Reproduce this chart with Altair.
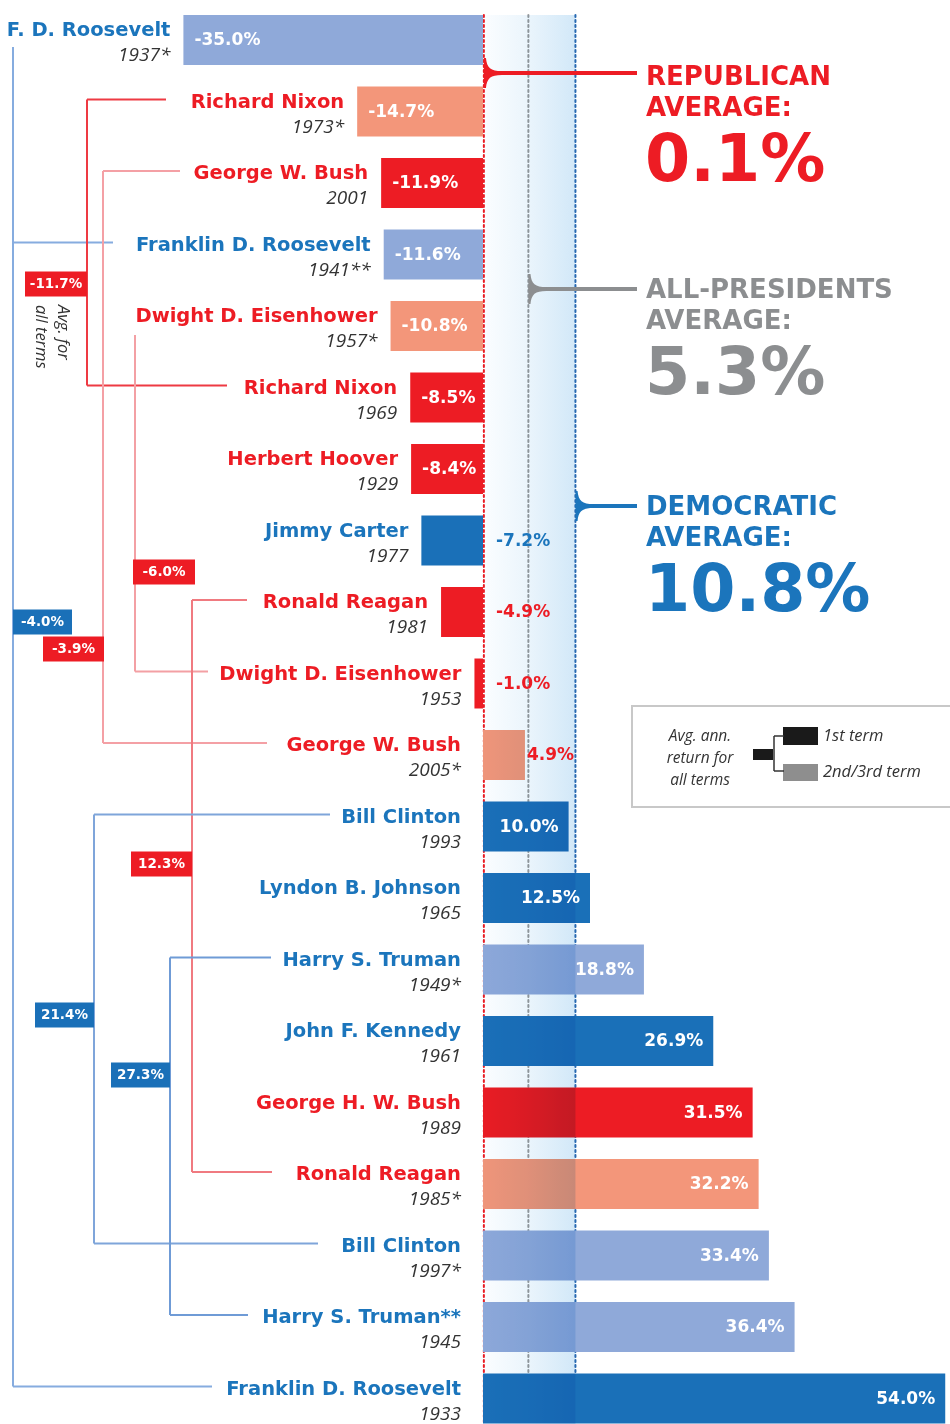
import altair as alt
import pandas as pd

W, H = 950, 1424

# ---------------- data ----------------
names = ["F. D. Roosevelt", "Richard Nixon", "George W. Bush", "Franklin D. Roosevelt",
         "Dwight D. Eisenhower", "Richard Nixon", "Herbert Hoover", "Jimmy Carter",
         "Ronald Reagan", "Dwight D. Eisenhower", "George W. Bush", "Bill Clinton",
         "Lyndon B. Johnson", "Harry S. Truman", "John F. Kennedy", "George H. W. Bush",
         "Ronald Reagan", "Bill Clinton", "Harry S. Truman**", "Franklin D. Roosevelt"]
years = ["1937*", "1973*", "2001", "1941**", "1957*", "1969", "1929", "1977", "1981", "1953",
         "2005*", "1993", "1965", "1949*", "1961", "1989", "1985*", "1997*", "1945", "1933"]
returns = [-35.0, -14.7, -11.9, -11.6, -10.8, -8.5, -8.4, -7.2, -4.9, -1.0,
           4.9, 10.0, 12.5, 18.8, 26.9, 31.5, 32.2, 33.4, 36.4, 54.0]
parties = ["D", "R", "R", "D", "R", "R", "R", "D", "R", "R",
           "R", "D", "D", "D", "D", "R", "R", "D", "D", "D"]
terms = ["2", "2", "1", "2", "2", "1", "1", "1", "1", "1",
         "2", "1", "1", "2", "1", "1", "2", "2", "2", "1"]

avg_names = ["REPUBLICAN", "ALL-PRESIDENTS", "DEMOCRATIC"]
avg_values = [0.1, 5.3, 10.8]

# president groups (rows of the same president) and their average for all terms
group_keys = ["FDR", "Nixon", "Bush", "Eisenhower", "Reagan", "Clinton", "Truman"]
group_rows = {"FDR": [0, 3, 19], "Nixon": [1, 5], "Bush": [2, 10], "Eisenhower": [4, 9],
              "Reagan": [8, 16], "Clinton": [11, 17], "Truman": [13, 18]}
group_avg = {"FDR": "-4.0%", "Nixon": "-11.7%", "Bush": "-3.9%", "Eisenhower": "-6.0%",
             "Reagan": "12.3%", "Clinton": "21.4%", "Truman": "27.3%"}

# ---------------- layout / style ----------------
ZERO_PX, PPX = 483.0, 8.56          # pixel of 0% and pixels per percent
ROW0_PX, ROW_PX = 40.0, 71.5        # centre of first row, row pitch
FONT = "Open Sans"
BOLD_FONT = "DejaVu Sans"
BLUE, RED = "#1B75BC", "#ED1C24"
GRAY = "#8C8E90"
BAR_COLORS = {"D1": "#1A70B8", "D2": "#8FA9D9", "R1": "#ED1C24", "R2": "#F3967A"}


def px2x(px):
    return (px - ZERO_PX) / PPX


def px2y(py):
    return (py - ROW0_PX) / ROW_PX


xs = alt.Scale(domain=[px2x(0), px2x(W)], nice=False, zero=False)
ys = alt.Scale(domain=[px2y(0), px2y(H)], nice=False, zero=False, reverse=True)


def X(f):
    return alt.X(f, type="quantitative", scale=xs, axis=None)


def Y(f):
    return alt.Y(f, type="quantitative", scale=ys, axis=None)


# bracket layout (pixels): vertical x, start of vertical (if under a name), branch ends, box
bracket_layout = {
    "FDR": dict(x=13, top=47, ends={3: 113, 19: 212}, box=(13, 72, 622), line="#86ACDF", fill="#1A70B8"),
    "Nixon": dict(x=87, top=None, ends={1: 166, 5: 227}, box=(25, 87, 284), line="#EE3A43", fill=RED),
    "Bush": dict(x=103, top=None, ends={2: 180, 10: 267}, box=(43, 104, 649), line="#F4A0A5", fill=RED),
    "Eisenhower": dict(x=135, top=335, ends={9: 208}, box=(133, 195, 572), line="#F3A0A4", fill=RED),
    "Reagan": dict(x=192, top=None, ends={8: 247, 16: 272}, box=(131, 192, 864), line="#F07A80", fill=RED),
    "Clinton": dict(x=94, top=None, ends={11: 330, 17: 318}, box=(35, 94, 1015), line="#7FA5DA", fill="#1A70B8"),
    "Truman": dict(x=170, top=None, ends={13: 271, 18: 248}, box=(111, 170, 1075), line="#6F9BD6", fill="#1A70B8"),
}

# ---------------- tables ----------------
rows = []
for i, (n, yr, v, p, t) in enumerate(zip(names, years, returns, parties, terms)):
    gap = 13 if v < 0 else 22
    rows.append(dict(row=i, name=n, year=yr, v=v, party=p, kind=p + t,
                     y0=i - 25 / ROW_PX, y1=i + 25 / ROW_PX,
                     ny=i - 10 / ROW_PX, yy=i + 15 / ROW_PX,
                     nx=min(v, 0) - gap / PPX,
                     ncolor=BLUE if p == "D" else RED,
                     label=f"{v:.1f}%"))
df = pd.DataFrame(rows)

lab_left, lab_right = [], []
for r in rows:
    v = r["v"]
    if v <= -8:
        lab_left.append(dict(x=v + 11 / PPX, y=r["row"], t=r["label"], c="white"))
    elif v < 0:
        lab_left.append(dict(x=13 / PPX, y=r["row"], t=r["label"], c=r["ncolor"]))
    elif v < 8:
        lab_left.append(dict(x=v + 2 / PPX, y=r["row"], t=r["label"], c=r["ncolor"]))
    else:
        lab_right.append(dict(x=v - 10 / PPX, y=r["row"], t=r["label"], c="white"))
lab_left = pd.DataFrame(lab_left)
lab_right = pd.DataFrame(lab_right)

segs, boxes = [], []
for k in group_keys:
    L = bracket_layout[k]
    bx = px2x(L["x"])
    top = px2y(L["top"]) if L["top"] is not None else min(r for r in L["ends"]) - 12 / ROW_PX
    bottom = max(L["ends"]) - 12 / ROW_PX
    segs.append(dict(x=bx, x2=bx, y=top, y2=bottom, c=L["line"]))
    for r, e in L["ends"].items():
        yy = r - 12 / ROW_PX
        segs.append(dict(x=bx, x2=px2x(e), y=yy, y2=yy, c=L["line"]))
    bl, br, bc = L["box"]
    boxes.append(dict(x=px2x(bl), x2=px2x(br), y=px2y(bc - 12.5), y2=px2y(bc + 12.5),
                      xm=px2x((bl + br) / 2), ym=px2y(bc), c=L["fill"], t=group_avg[k]))
segs = pd.DataFrame(segs)
boxes = pd.DataFrame(boxes)

# guides (average lines)
guide_colors = [RED, "#9A9C9E", "#2A6DB3"]
guides = pd.DataFrame(dict(x=avg_values, y=[px2y(15)] * 3, y2=[px2y(H)] * 3, c=guide_colors))

# callouts
call_line_y = [73, 289, 506]
call_colors = [RED, GRAY, BLUE]
callouts = pd.DataFrame(dict(x=avg_values, x2=[px2x(637)] * 3,
                             y=[px2y(v) for v in call_line_y], c=call_colors))
heads = []
big = []
for nm, v, ly, c in zip(avg_names, avg_values, [77, 290, 507], call_colors):
    heads.append(dict(x=px2x(646), y=px2y(ly), t=nm, c=c))
    heads.append(dict(x=px2x(646), y=px2y(ly + 31), t="AVERAGE:", c=c))
    big.append(dict(x=px2x(645), y=px2y(ly + 84), t=f"{v:.1f}%", c=c))
heads = pd.DataFrame(heads)
big = pd.DataFrame(big)

band = pd.DataFrame(dict(x=[0.0], x2=[avg_values[2]], y=[px2y(15)], y2=[px2y(H)]))

# ---------------- layers ----------------
guide_layer = alt.Chart(guides).mark_rule(strokeWidth=2, strokeDash=[2, 3], strokeCap="round").encode(
    x=X("x"), y=Y("y"), y2="y2", color=alt.Color("c:N", scale=None))

bars = alt.Chart(df).mark_rect().encode(
    x=X("v"), x2=alt.datum(0), y=Y("y0"), y2="y1",
    color=alt.Color("kind:N", scale=alt.Scale(domain=list(BAR_COLORS), range=list(BAR_COLORS.values())),
                    legend=None))

grad = alt.LinearGradient(gradient="linear", x1=0, x2=1, y1=0, y2=0,
                          stops=[alt.GradientStop(offset=0, color="#fbfdff"),
                                 alt.GradientStop(offset=0.47, color="#ebf5fc"),
                                 alt.GradientStop(offset=1, color="#d2e8f8")])
band_layer = alt.Chart(band).mark_rect(fill=grad, blend="multiply").encode(
    x=X("x"), x2="x2", y=Y("y"), y2="y2")

seg_layer = alt.Chart(segs).mark_rule(strokeWidth=2).encode(
    x=X("x"), x2="x2", y=Y("y"), y2="y2", color=alt.Color("c:N", scale=None))

box_layer = alt.Chart(boxes).mark_rect().encode(
    x=X("x"), x2="x2", y=Y("y"), y2="y2", color=alt.Color("c:N", scale=None))
box_text = alt.Chart(boxes).mark_text(font=BOLD_FONT, fontWeight="bold", fontSize=13.5, color="white",
                                      baseline="middle").encode(
    x=X("xm"), y=Y("ym"), text="t:N")

avg_note = alt.Chart(pd.DataFrame(dict(x=[px2x(63), px2x(41)], y=[px2y(305)] * 2,
                                       t=["Avg. for", "all terms"]))).mark_text(
    font=FONT, fontStyle="italic", fontSize=16.5, angle=90, align="left", baseline="middle",
    color="#333333").encode(x=X("x"), y=Y("y"), text="t:N")

name_layer = alt.Chart(df).mark_text(font=BOLD_FONT, fontWeight="bold", fontSize=19.5, align="right",
                                     baseline="middle").encode(
    x=X("nx"), y=Y("ny"), text="name:N", color=alt.Color("ncolor:N", scale=None))
year_layer = alt.Chart(df).mark_text(font=FONT, fontStyle="italic", fontSize=19, align="right",
                                     baseline="middle", color="#333333").encode(
    x=X("nx"), y=Y("yy"), text="year:N")

lab_l = alt.Chart(lab_left).mark_text(font=BOLD_FONT, fontWeight="bold", fontSize=17, align="left",
                                      baseline="middle").encode(
    x=X("x"), y=Y("y"), text="t:N", color=alt.Color("c:N", scale=None))
lab_r = alt.Chart(lab_right).mark_text(font=BOLD_FONT, fontWeight="bold", fontSize=17, align="right",
                                       baseline="middle").encode(
    x=X("x"), y=Y("y"), text="t:N", color=alt.Color("c:N", scale=None))

call_rule = alt.Chart(callouts).mark_rule(strokeWidth=4).encode(
    x=X("x"), x2="x2", y=Y("y"), y2="y", color=alt.Color("c:N", scale=None))
flare = "M0,-1 L0.14,-1 C0.2,-0.35 0.45,-0.13 1.2,-0.13 L1.2,0.13 C0.45,0.13 0.2,0.35 0.14,1 L0,1 Z"
call_mark = alt.Chart(callouts).mark_point(shape=flare, filled=True, size=900, opacity=1).encode(
    x=X("x"), y=Y("y"), color=alt.Color("c:N", scale=None))
head_layer = alt.Chart(heads).mark_text(font=BOLD_FONT, fontWeight="bold", fontSize=26, align="left",
                                        baseline="middle").encode(
    x=X("x"), y=Y("y"), text="t:N", color=alt.Color("c:N", scale=None))
big_layer = alt.Chart(big).mark_text(font=BOLD_FONT, fontWeight="bold", fontSize=65, align="left",
                                     baseline="middle").encode(
    x=X("x"), y=Y("y"), text="t:N", color=alt.Color("c:N", scale=None))

# legend box
leg_frame = alt.Chart(pd.DataFrame(dict(x=[px2x(632)], x2=[px2x(952)], y=[px2y(706)], y2=[px2y(807)]))).mark_rect(
    fill="white", stroke="#C8C8C8", strokeWidth=2).encode(x=X("x"), x2="x2", y=Y("y"), y2="y2")
leg_rects = alt.Chart(pd.DataFrame(dict(
    x=[px2x(753), px2x(783), px2x(783)], x2=[px2x(773), px2x(818), px2x(818)],
    y=[px2y(749), px2y(727), px2y(764)], y2=[px2y(760), px2y(745), px2y(781)],
    c=["#1a1a1a", "#1a1a1a", "#8E8E8E"]))).mark_rect().encode(
    x=X("x"), x2="x2", y=Y("y"), y2="y2", color=alt.Color("c:N", scale=None))
leg_lines = alt.Chart(pd.DataFrame(dict(
    x=[px2x(774), px2x(774), px2x(774)], x2=[px2x(774), px2x(784), px2x(784)],
    y=[px2y(736), px2y(736), px2y(771)], y2=[px2y(771), px2y(736), px2y(771)]))).mark_rule(
    strokeWidth=1.5, color="#333333").encode(x=X("x"), x2="x2", y=Y("y"), y2="y2")
leg_text_c = alt.Chart(pd.DataFrame(dict(x=[px2x(700)] * 3, y=[px2y(736), px2y(758), px2y(780)],
                                         t=["Avg. ann.", "return for", "all terms"]))).mark_text(
    font=FONT, fontStyle="italic", fontSize=15.5, align="center", baseline="middle", color="#333333").encode(
    x=X("x"), y=Y("y"), text="t:N")
leg_text_l = alt.Chart(pd.DataFrame(dict(x=[px2x(823)] * 2, y=[px2y(736), px2y(772)],
                                         t=["1st term", "2nd/3rd term"]))).mark_text(
    font=FONT, fontStyle="italic", fontSize=16.5, align="left", baseline="middle", color="#333333").encode(
    x=X("x"), y=Y("y"), text="t:N")

chart = alt.layer(
    guide_layer, bars, band_layer, seg_layer, box_layer, box_text, avg_note,
    name_layer, year_layer, lab_l, lab_r,
    call_rule, call_mark, head_layer, big_layer,
    leg_frame, leg_rects, leg_lines, leg_text_c, leg_text_l,
).properties(
    width=W, height=H, padding=0, background="white",
    autosize=alt.AutoSizeParams(type="none"),
).configure_view(stroke=None)

chart.save("out.html", embed_options={"renderer": "svg", "actions": False})
